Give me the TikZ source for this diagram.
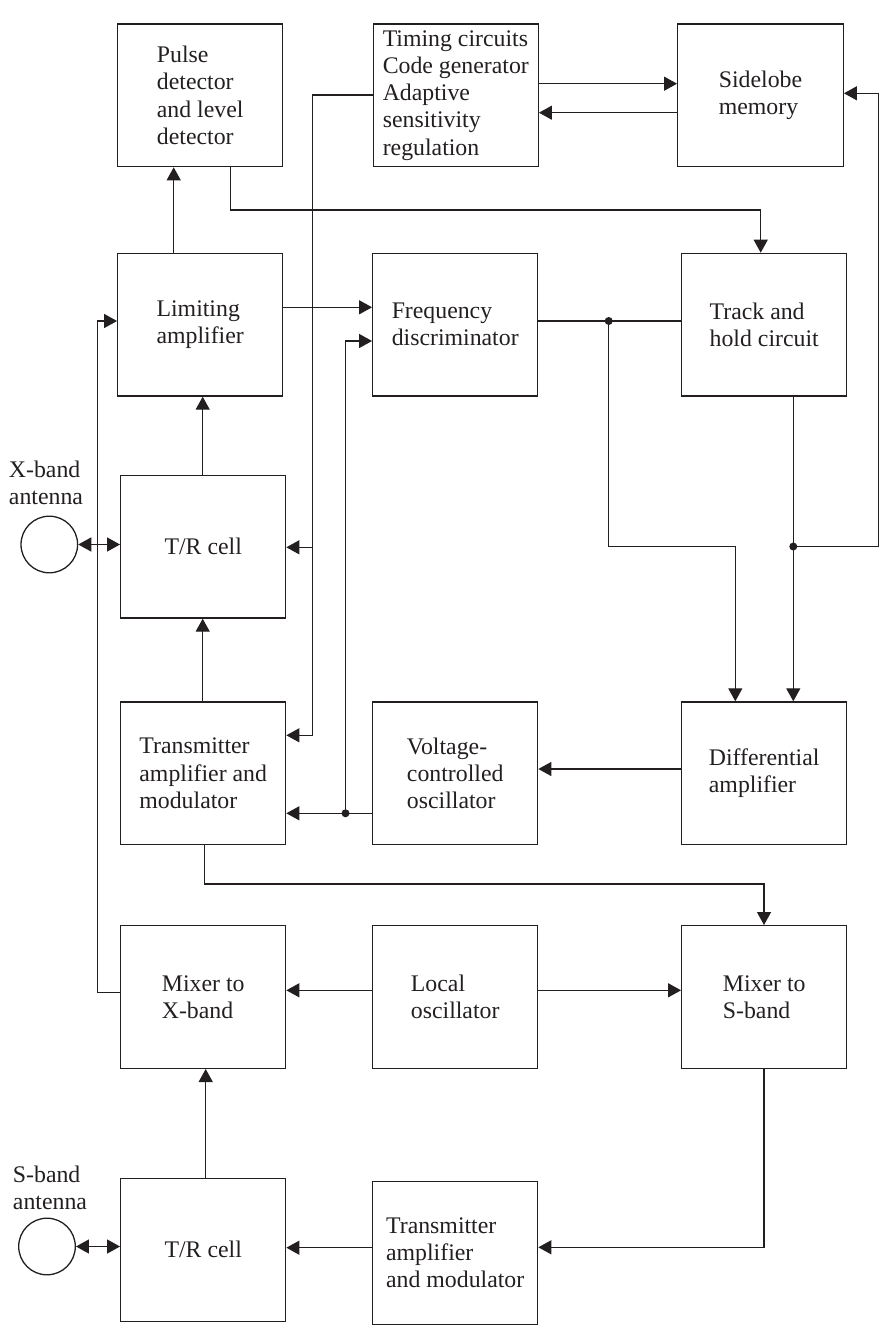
\documentclass[tikz,border=0pt]{standalone}
\usepackage{fontspec}
\setmainfont{Liberation Serif}
\usetikzlibrary{arrows.meta}
\definecolor{ink}{RGB}{35,31,32}
\begin{document}
\begin{tikzpicture}[x=1pt,y=-1pt,line width=1.3pt,draw=ink,
  txtfont/.style={font=\fontsize{23.8pt}{27.2pt}\selectfont, text=ink},
  blk/.style={draw=ink, line width=1.3pt, minimum width=165pt, minimum height=142.7pt, inner sep=0pt, align=left, txtfont},
  lab/.style={inner sep=0pt, align=left, txtfont},
  arr/.style={-{Triangle[length=13pt,width=14pt]}, draw=ink},
  dbl/.style={{Triangle[length=13pt,width=14pt]}-{Triangle[length=13pt,width=14pt]}, draw=ink},
  jdot/.style={circle, fill=ink, inner sep=0pt, minimum size=8pt},
  ant/.style={draw=ink, circle, minimum size=56.6pt, inner sep=0pt, line width=1.3pt}]
\useasboundingbox (0,0) rectangle (882,1329);
% blocks
\node[blk] (pulse) at (200.2,95.3) {Pulse\\detector\\and level\\detector};
\node[blk] (timing) at (455.8,95.3) {Timing circuits\\Code generator\\Adaptive\\sensitivity\\regulation};
\node[blk, minimum width=165.6pt] (side) at (760.5,95.3) {Sidelobe\\memory};
\node[blk] (lim) at (200.2,324.7) {Limiting\\amplifier};
\node[blk] (freq) at (455.2,324.7) {Frequency\\discriminator};
\node[blk] (track) at (764.2,324.7) {Track and\\hold circuit};
\node[blk] (trx) at (203.2,546.7) {T/R cell};
\node[blk] (txx) at (203.2,773.3) {Transmitter\\amplifier and\\modulator};
\node[blk] (vco) at (455.2,773.3) {Voltage-\\controlled\\oscillator};
\node[blk] (diff) at (764.2,773.3) {Differential\\amplifier};
\node[blk] (mixx) at (203.2,997) {Mixer to\\X-band};
\node[blk] (lo) at (455.2,997) {Local\\oscillator};
\node[blk] (mixs) at (764.2,997) {Mixer to\\S-band};
\node[blk] (trs) at (203.2,1249.8) {T/R cell};
\node[blk] (txs) at (455.2,1252.8) {Transmitter\\amplifier\\and modulator};
% antennas
\node[ant] (xant) at (49.3,544.5) {};
\node[lab, anchor=north west] (xlab) at (8.3,460) {X-band\\antenna};
\node[ant] (sant) at (47,1246.5) {};
\node[lab, anchor=north west] (slab) at (12.3,1165.5) {S-band\\antenna};
% junctions
\node[jdot] (j1) at (608.7,321) {};
\node[jdot] (j2) at (793.3,546.5) {};
\node[jdot] (j3) at (345.5,813.3) {};
\coordinate (c1) at (312.3,95);
\coordinate (c2) at (312.3,547.3);
% connectors
\draw[dbl] (xant.east) -- (xant.east -| trx.west);
\draw[dbl] (sant.east) -- (sant.east -| trs.west);
\draw[arr] (173.7,0 |- lim.north) -- (173.7,0 |- pulse.south);
\draw[arr] (lim.east |- 0,307.3) -- (freq.west |- 0,307.3);
\draw[arr] (230.7,0 |- pulse.south) -- (230.7,210) -- (760.7,210) -- (760.7,0 |- track.north);
\draw[arr] (timing.east |- 0,83.7) -- (side.west |- 0,83.7);
\draw[arr] (side.west |- 0,112.7) -- (timing.east |- 0,112.7);
\draw (freq.east |- j1.center) -- (track.west |- j1.center);
\draw[arr] (j1.center) -- (608.7,546.7) -- (735.3,546.7) -- (735.3,0 |- diff.north);
\draw[arr] (j2.center |- track.south) -- (j2.center |- diff.north);
\draw[arr] (j2.center) -- (878.7,546.5) -- (878.7,93.3) -- (side.east |- 0,93.3);
\draw[arr] (timing.west |- c1) -- (c1) -- (312.3,735.3) -- (txx.east |- 0,735.3);
\draw[arr] (c2) -- (trx.east |- c2);
\draw[arr] (vco.west |- j3.center) -- (txx.east |- j3.center);
\draw[arr] (j3.center) -- (345.5,341) -- (freq.west |- 0,341);
\draw[arr] (202.7,0 |- trx.north) -- (202.7,0 |- lim.south);
\draw[arr] (202.7,0 |- txx.north) -- (202.7,0 |- trx.south);
\draw[arr] (mixx.west |- 0,992.7) -- (97.7,992.7) -- (97.7,321) -- (lim.west |- 0,321);
\draw[arr] (diff.west |- 0,769) -- (vco.east |- 0,769);
\draw[arr] (204.3,0 |- txx.south) -- (204.3,884) -- (764,884) -- (764,0 |- mixs.north);
\draw[arr] (lo.west |- 0,990.3) -- (mixx.east |- 0,990.3);
\draw[arr] (lo.east |- 0,990.3) -- (mixs.west |- 0,990.3);
\draw[arr] (205.7,0 |- trs.north) -- (205.7,0 |- mixx.south);
\draw[arr] (764,0 |- mixs.south) -- (764,1247.3) -- (txs.east |- 0,1247.3);
\draw[arr] (txs.west |- 0,1247.7) -- (trs.east |- 0,1247.7);
\end{tikzpicture}
\end{document}
